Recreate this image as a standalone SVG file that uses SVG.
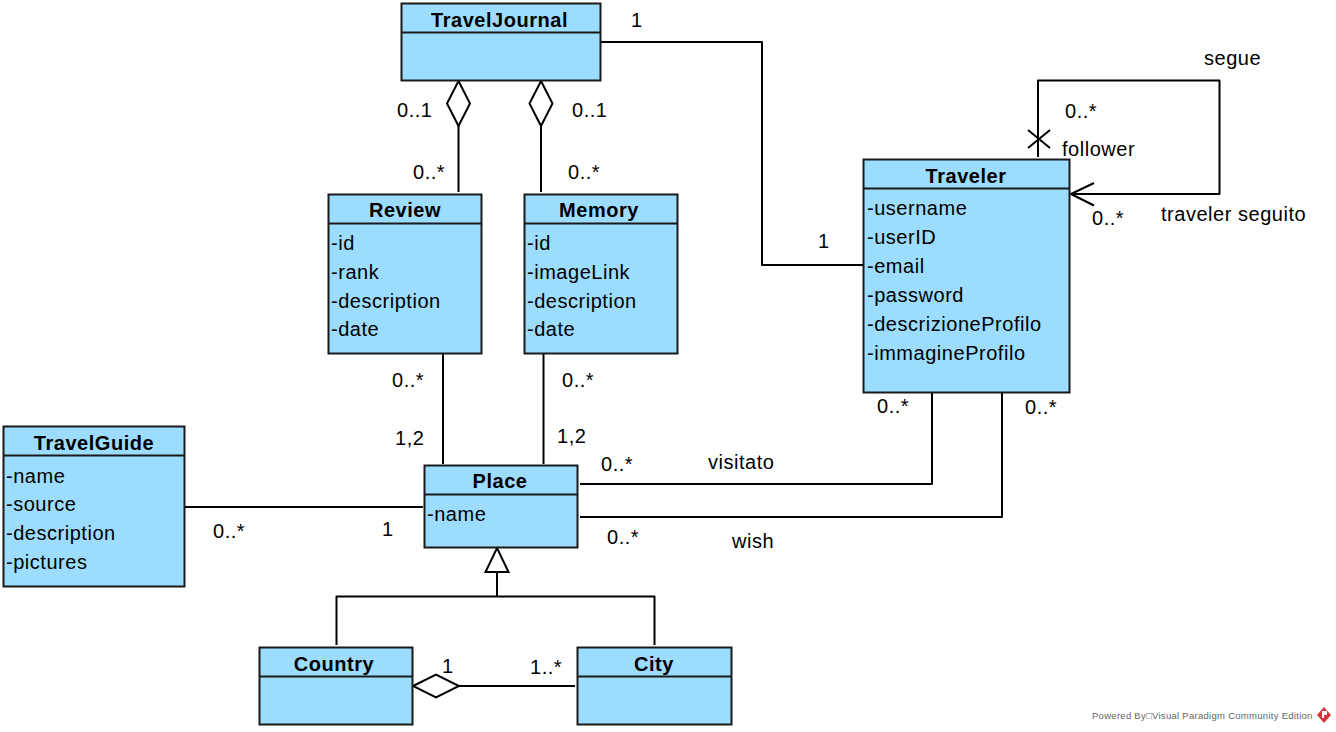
<svg xmlns="http://www.w3.org/2000/svg" width="1336" height="732" viewBox="0 0 1336 732">
<style>
text{font-family:"Liberation Sans",Arial,sans-serif;font-size:20px;fill:#000;letter-spacing:.53px}
.t{font-weight:bold;text-anchor:middle}
.b{fill:#9cdcff;stroke:#1a1a1a;stroke-width:2}
.d{stroke:#1a1a1a;stroke-width:2;fill:none}
.c{stroke:#000;stroke-width:2;fill:none;stroke-linejoin:round}
.w{stroke:#000;stroke-width:2;fill:#fff}
.f{font-size:9.5px;fill:#666;letter-spacing:.28px}
</style>
<rect width="1336" height="732" fill="#fff"/>
<g id="connectors">
<path class="c" d="M600 42H762V265H863"/>
<path class="c" d="M1038 157V80.500H1219.500V194H1071"/>
<path class="c" d="M1028 130L1050 148M1050 130L1028 148"/>
<path class="c" d="M1094 183L1071 194L1094 205.500"/>
<path class="c" d="M458.500 126V192"/>
<path class="w" d="M458.500 81L470 103.500L458.500 126L447 103.500Z"/>
<path class="c" d="M541 126V192"/>
<path class="w" d="M541 81L552.500 103.500L541 126L529.500 103.500Z"/>
<path class="c" d="M443 353V464"/>
<path class="c" d="M543.500 353V464"/>
<path class="c" d="M185 507H423"/>
<path class="c" d="M580 484H932V392"/>
<path class="c" d="M580 517H1002V392"/>
<path class="c" d="M336.500 645V596.500H654.500V645"/>
<path class="c" d="M497 596.500V572"/>
<path class="w" d="M497 548L508.500 572H485.500Z"/>
<path class="c" d="M459 686H575"/>
<path class="w" d="M413 686L436 674.500L459 686L436 697.500Z"/>
</g>
<g id="TravelJournal"><rect class="b" x="401.500" y="3.500" width="199" height="77"/><path class="d" d="M402 32.500H600"/><text class="t" x="499.500" y="27">TravelJournal</text></g>
<g id="Review"><rect class="b" x="328.500" y="194.500" width="153" height="159"/><path class="d" d="M329 223.500H481"/><text class="t" x="405" y="217">Review</text>
<text x="331" y="250">-id</text><text x="331" y="279">-rank</text><text x="331" y="308">-description</text><text x="331" y="336">-date</text></g>
<g id="Memory"><rect class="b" x="524.500" y="194.500" width="153" height="159"/><path class="d" d="M525 223.500H677"/><text class="t" x="599" y="217">Memory</text>
<text x="527" y="250">-id</text><text x="527" y="279">-imageLink</text><text x="527" y="308">-description</text><text x="527" y="336">-date</text></g>
<g id="Traveler"><rect class="b" x="863.500" y="159.500" width="206" height="233"/><path class="d" d="M864 188.500H1069"/><text class="t" x="966" y="183">Traveler</text>
<text x="867" y="215">-username</text><text x="867" y="244">-userID</text><text x="867" y="273">-email</text><text x="867" y="302">-password</text><text x="867" y="331">-descrizioneProfilo</text><text x="867" y="360">-immagineProfilo</text></g>
<g id="TravelGuide"><rect class="b" x="3.500" y="426.500" width="181" height="160"/><path class="d" d="M4 455.500H184"/><text class="t" x="94" y="450">TravelGuide</text>
<text x="6" y="483">-name</text><text x="6" y="511">-source</text><text x="6" y="540">-description</text><text x="6" y="569">-pictures</text></g>
<g id="Place"><rect class="b" x="424.500" y="465.500" width="153" height="82"/><path class="d" d="M425 494.500H577"/><text class="t" x="500" y="488">Place</text><text x="427" y="521">-name</text></g>
<g id="Country"><rect class="b" x="259.500" y="647.500" width="153" height="77"/><path class="d" d="M260 676.500H412"/><text class="t" x="334" y="671">Country</text></g>
<g id="City"><rect class="b" x="577.500" y="647.500" width="154" height="77"/><path class="d" d="M578 676.500H731"/><text class="t" x="654" y="671">City</text></g>
<g id="labels">
<text x="631" y="27">1</text><text x="818" y="248">1</text>
<text x="1204" y="65">segue</text><text x="1065" y="118">0..*</text><text x="1062" y="156">follower</text><text x="1092" y="225">0..*</text><text x="1161" y="221">traveler seguito</text>
<text x="397" y="117">0..1</text><text x="572" y="117">0..1</text><text x="413" y="179">0..*</text><text x="568" y="179">0..*</text>
<text x="392" y="387">0..*</text><text x="562" y="387">0..*</text><text x="395" y="445">1,2</text><text x="557" y="443">1,2</text>
<text x="877" y="413">0..*</text><text x="1025" y="414">0..*</text>
<text x="601" y="471">0..*</text><text x="708" y="469">visitato</text><text x="607" y="544">0..*</text><text x="732" y="548">wish</text>
<text x="213" y="538">0..*</text><text x="382" y="536">1</text>
<text x="442" y="673">1</text><text x="530" y="674">1..*</text>
</g>
<g id="footer">
<text class="f" x="1092" y="719">Powered By□Visual Paradigm Community Edition</text>
<path fill="#d8353a" d="M1324 707L1331 715L1324 723L1317 715Z"/>
<path fill="#fff" d="M1322 711H1327V715H1324V718H1322Z"/>
</g>
</svg>
